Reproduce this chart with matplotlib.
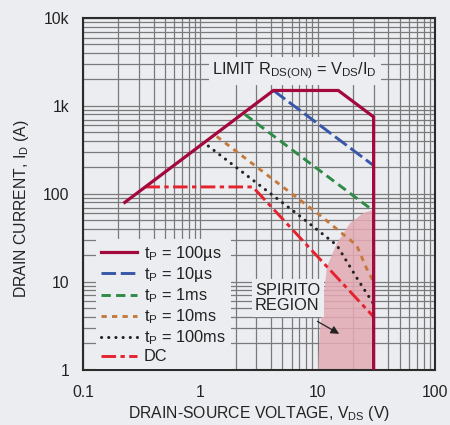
import numpy as np
import matplotlib.pyplot as plt
from matplotlib.ticker import LogLocator, FixedLocator, NullFormatter

plt.rcParams['font.family'] = ['Liberation Sans', 'DejaVu Sans']
plt.rcParams['mathtext.fontset'] = 'custom'
plt.rcParams['mathtext.rm'] = 'Liberation Sans'

bg = '#ecedf0'

# safe operating area curves (V, A)
v_100us = [0.227, 4.2, 15, 30, 30]
i_100us = [80, 1500, 1500, 750, 1]
v_10us = [4.2, 30]
i_10us = [1500, 210]
v_1ms = [2.4, 30]
i_1ms = [800, 64]
v_10ms = [1.38, 10.5, 21.5, 26.2, 30]
i_10ms = [450, 57, 26, 14.1, 10]
v_100ms = [1.17, 6.6, 14.6, 22.2, 30]
i_100ms = [350, 60, 26, 10.4, 5.6]
v_dc = [0.34, 2.8, 30]
i_dc = [120, 120, 4.0]

# spirito region left boundary
v_spirito = [10.1, 10.4, 12.0, 14.6, 18.9, 24.5, 30, 30]
i_spirito = [1, 2.6, 14.9, 27.5, 46.5, 60.4, 66, 1]

x_ticks = [0.1, 1, 10, 100]
x_labels = ['0.1', '1', '10', '100']
y_ticks = [1, 10, 100, 1000, 10000]
y_labels = ['1', '10', '100', '1k', '10k']

fs = 11.3

fig = plt.figure(figsize=(4.5, 4.25), dpi=100, facecolor=bg)
ax = fig.add_axes([0.1844, 0.130, 0.7822, 0.8276], facecolor=bg)
ax.set_xscale('log')
ax.set_yscale('log')
ax.set_xlim(0.1, 100)
ax.set_ylim(1, 10000)

ax.fill(v_spirito, i_spirito, color='#e3aab4', alpha=0.85, lw=0, zorder=1)

ax.plot(v_100us, i_100us, color='#a3093c', lw=2.3, solid_joinstyle='miter',
        label=r't$_\mathregular{P}$ = 100µs', zorder=5)
ax.plot(v_10us, i_10us, color='#3857a8', lw=2.1, dashes=(5, 1.6),
        label=r't$_\mathregular{P}$ = 10µs', zorder=4)
ax.plot(v_1ms, i_1ms, color='#2e8b45', lw=2.1, dashes=(3.2, 1.8),
        label=r't$_\mathregular{P}$ = 1ms', zorder=4)
ax.plot(v_10ms, i_10ms, color='#c47a3c', lw=2.1, dashes=(1.8, 1.8),
        label=r't$_\mathregular{P}$ = 10ms', zorder=4)
ax.plot(v_100ms, i_100ms, color='#222222', lw=2.2, dashes=(0.05, 2.3),
        dash_capstyle='round', label=r't$_\mathregular{P}$ = 100ms', zorder=4)
ax.plot(v_dc, i_dc, color='#e5232f', lw=2.1, dashes=(5, 1.5, 1.5, 1.5),
        label='DC', zorder=4)

ax.xaxis.set_major_locator(FixedLocator(x_ticks))
ax.set_xticklabels(x_labels)
ax.yaxis.set_major_locator(FixedLocator(y_ticks))
ax.set_yticklabels(y_labels)
ax.xaxis.set_minor_locator(LogLocator(base=10, subs=np.arange(2, 10)))
ax.yaxis.set_minor_locator(LogLocator(base=10, subs=np.arange(2, 10)))
ax.xaxis.set_minor_formatter(NullFormatter())
ax.yaxis.set_minor_formatter(NullFormatter())
ax.tick_params(which='both', length=0, labelsize=fs, colors='#222222')
ax.tick_params(axis='x', pad=11)
ax.tick_params(axis='y', pad=10)
ax.grid(True, which='both', color='#7a7a7a', lw=0.9, zorder=0)
ax.set_axisbelow(True)
for s in ax.spines.values():
    s.set_color('#2b2b2b')
    s.set_linewidth(1.5)

ax.set_xlabel(r'DRAIN-SOURCE VOLTAGE, V$_\mathregular{DS}$ (V)', fontsize=fs,
              color='#222222', labelpad=3)
fig.text(0.048, 0.51, r'DRAIN CURRENT, I$_\mathregular{D}$ (A)', rotation=90,
         fontsize=fs, color='#222222', ha='center', va='center')

box = dict(facecolor=bg, edgecolor='none', pad=2.5)
ax.text(0.602, 0.849, r'LIMIT R$_\mathregular{DS(ON)}$ = V$_\mathregular{DS}$/I$_\mathregular{D}$',
        transform=ax.transAxes, ha='center', va='center', fontsize=fs + 0.5,
        color='#222222', bbox=box, zorder=6)
ax.text(0.489, 0.248, 'SPIRITO\nREGION', transform=ax.transAxes, ha='left',
        va='top', fontsize=fs + 0.5, color='#222222', linespacing=1.05,
        bbox=box, zorder=6)
ax.annotate('', xy=(16.0, 2.47), xytext=(9.5, 3.68),
            arrowprops=dict(arrowstyle='-|>', color='#222222', lw=0.9,
                            mutation_scale=12), zorder=6)

leg = ax.legend(loc='lower left', bbox_to_anchor=(0.015, -0.022), fontsize=fs + 0.5,
                frameon=True, facecolor=bg, edgecolor='none', framealpha=1,
                handlelength=2.2, handletextpad=0.4, labelspacing=0.14,
                borderpad=0.3, fancybox=False)
leg.set_zorder(7)
for t in leg.get_texts():
    t.set_color('#222222')

fig.savefig('out.png', dpi=100, facecolor=bg)
